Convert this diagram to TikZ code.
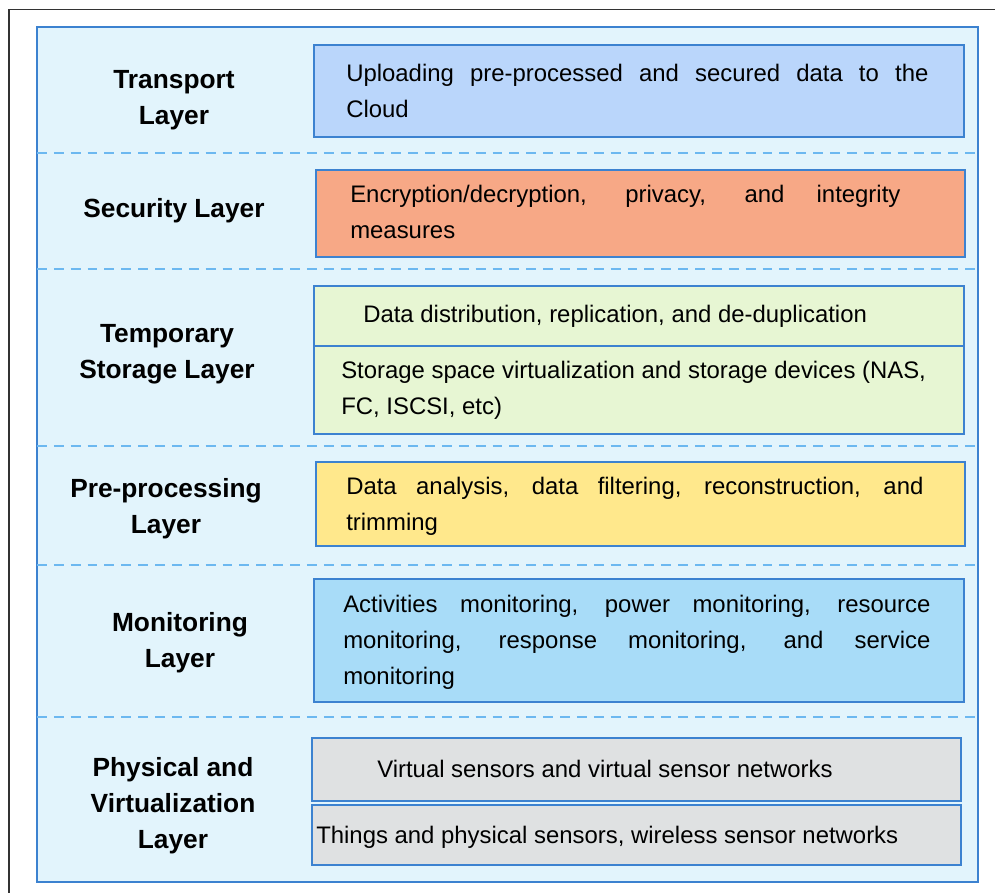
\documentclass[tikz,border=0pt]{standalone}
\usepackage{fontspec}
\setmainfont{Liberation Sans}
\usetikzlibrary{positioning}
\definecolor{panelfill}{HTML}{E2F4FC}
\definecolor{paneledge}{HTML}{3C82D0}
\definecolor{sepdash}{HTML}{6CB8F0}
\definecolor{transfill}{HTML}{BAD6FB}
\definecolor{securfill}{HTML}{F7A886}
\definecolor{storefill}{HTML}{E7F6D3}
\definecolor{prepfill}{HTML}{FFE88C}
\definecolor{monifill}{HTML}{A8DCF8}
\definecolor{physfill}{HTML}{DFE1E2}
\newcommand{\bodyfont}{\fontsize{17}{25.6}\selectfont}
\newcommand{\namefont}{\fontsize{18.7}{25.6}\selectfont\bfseries}
\tolerance=10000 \hyphenpenalty=10000 \exhyphenpenalty=10000
\tikzset{
  layerbox/.style={draw=paneledge, line width=1.2pt, anchor=north west, inner sep=0pt, minimum width=16.25cm},
  boxtext/.style={inner sep=0pt, font=\bodyfont, align=justify},
  layername/.style={font=\namefont, align=center},
  sepline/.style={draw=sepdash, line width=1.3pt, dash pattern=on 7pt off 5pt}
}
\begin{document}
\begin{tikzpicture}[x=0.025cm, y=-0.025cm]
		\useasboundingbox (0,0) rectangle (995,893);
		% frame and panel
		\draw[line width=0.8pt, black!80] (9,893) -- (9,9.5) -- (995,9.5);
		\draw[fill=panelfill, draw=paneledge, line width=1.3pt] (37,27) rectangle (978,882);
		\foreach \yy in {153,269,446,565,717}
			\draw[sepline] (37,\yy) -- (978,\yy);
		% Transport
		\node[layername] (tra-n) at (174,100) {Transport\\Layer};
		\node[layerbox, fill=transfill, minimum height=2.3cm] (tra) at (313,44) {};
		\node[boxtext, text width=14.55cm, right=0.825cm of tra.west] (tra-t) {Uploading pre-processed and secured data to the\linebreak Cloud};
		% Security
		\node[layername] (sec-n) at (174,211) {Security Layer};
		\node[layerbox, fill=securfill, minimum height=2.175cm, minimum width=16.225cm] (sec) at (315,169) {};
		\node[boxtext, text width=13.75cm, right=0.875cm of sec.west, yshift=1pt] (sec-t) {Encryption/decryption, privacy, and integrity measures};
		% Temporary storage
		\node[layername] (sto-n) at (167,354) {Temporary\\Storage Layer};
		\node[layerbox, fill=storefill, minimum height=1.5cm] (sto1) at (313,285) {};
		\node[layerbox, fill=storefill, minimum height=2.2cm] (sto2) at (313,345) {};
		\node[boxtext, right=1.25cm of sto1.west] (sto1-t) {Data distribution, replication, and de-duplication};
		\node[boxtext, align=left, right=0.7cm of sto2.west] (sto2-t) {Storage space virtualization and storage devices (NAS,\\FC, ISCSI, etc)};
		% Pre-processing
		\node[layername] (pre-n) at (166,509) {Pre-processing\\Layer};
		\node[layerbox, fill=prepfill, minimum height=2.1cm, minimum width=16.225cm] (pre) at (315,461) {};
		\node[boxtext, text width=14.425cm, right=0.775cm of pre.west, yshift=-2pt] (pre-t) {Data analysis, data filtering, reconstruction, and trimming};
		% Monitoring
		\node[layername] (mon-n) at (180,643) {Monitoring\\Layer};
		\node[layerbox, fill=monifill, minimum height=3.075cm] (mon) at (313,578) {};
		\node[boxtext, text width=14.675cm, right=0.75cm of mon.west, yshift=-1.5pt] (mon-t) {Activities monitoring, power monitoring, resource monitoring, response monitoring, and service\linebreak monitoring};
		% Physical and virtualization
		\node[layername] (phy-n) at (173,806) {Physical and\\Virtualization\\Layer};
		\node[layerbox, fill=physfill, minimum height=1.575cm, minimum width=16.225cm] (phy1) at (311,737) {};
		\node[layerbox, fill=physfill, minimum height=1.5cm, minimum width=16.225cm] (phy2) at (311,804) {};
		\node[boxtext, right=1.65cm of phy1.west] (phy1-t) {Virtual sensors and virtual sensor networks};
		\node[boxtext, right=0.125cm of phy2.west, yshift=-2pt] (phy2-t) {Things and physical sensors, wireless sensor networks};
	\end{tikzpicture}
\end{document}
